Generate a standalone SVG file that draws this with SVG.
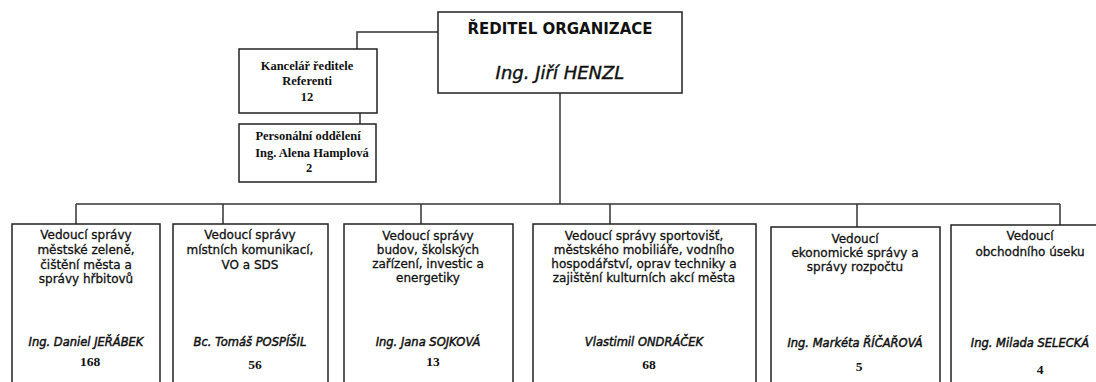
<svg xmlns="http://www.w3.org/2000/svg" width="1096" height="382" viewBox="0 0 1096 382">
<style>
.box{fill:#fff;stroke:#222;stroke-width:1.5}
.conn{fill:none;stroke:#333;stroke-width:1.5}
.t{font-family:"DejaVu Sans",Verdana,sans-serif;font-size:12px;fill:#111;stroke:#111;stroke-width:0.3;text-anchor:middle}
.n{font-family:"DejaVu Sans",Verdana,sans-serif;font-size:11.5px;font-style:italic;fill:#111;stroke:#111;stroke-width:0.45;text-anchor:middle}
.s{font-family:"Liberation Serif","Times New Roman",serif;font-size:12.5px;font-weight:bold;fill:#111;text-anchor:middle}
.num{font-family:"Liberation Serif","Times New Roman",serif;font-size:13.5px;font-weight:bold;fill:#111;text-anchor:middle}
.h1{font-family:"DejaVu Sans",Verdana,sans-serif;font-size:15px;font-weight:bold;fill:#111;text-anchor:middle}
.h2{font-family:"DejaVu Sans",Verdana,sans-serif;font-size:18px;font-style:italic;fill:#111;stroke:#111;stroke-width:0.4;text-anchor:middle}
</style>
<rect width="1096" height="382" fill="#fff"/>
<g id="connectors">
<polyline class="conn" points="438,32 357,32 357,49"/>
<line class="conn" x1="360" y1="113" x2="360" y2="124"/>
<line class="conn" x1="560" y1="93" x2="560" y2="204"/>
<line class="conn" x1="76" y1="204" x2="1060" y2="204"/>
<line class="conn" x1="76" y1="204" x2="76" y2="224"/>
<line class="conn" x1="223" y1="204" x2="223" y2="224"/>
<line class="conn" x1="421" y1="204" x2="421" y2="224"/>
<line class="conn" x1="610" y1="204" x2="610" y2="224"/>
<line class="conn" x1="857" y1="204" x2="857" y2="227"/>
<line class="conn" x1="1060" y1="204" x2="1060" y2="225"/>
</g>
<g id="director">
<rect class="box" x="438" y="12" width="244" height="81"/>
<text class="h1" x="560" y="34">ŘEDITEL ORGANIZACE</text>
<text class="h2" x="560" y="79">Ing. Jiří HENZL</text>
</g>
<g id="kancelar">
<rect class="box" x="239" y="49" width="138" height="64"/>
<text class="s" x="307" y="70">Kancelář ředitele</text>
<text class="s" x="307" y="85">Referenti</text>
<text class="s" x="307" y="101">12</text>
</g>
<g id="personalni">
<rect class="box" x="239" y="124" width="137" height="58"/>
<text class="s" x="308" y="140">Personální oddělení</text>
<text class="s" x="312" y="157">Ing. Alena Hamplová</text>
<text class="s" x="309" y="172">2</text>
</g>
<g id="zelen">
<rect class="box" x="12" y="224" width="148" height="170"/>
<text class="t" x="86" y="239">Vedoucí správy</text>
<text class="t" x="86" y="254">městské zeleně,</text>
<text class="t" x="86" y="269">čištění města a</text>
<text class="t" x="86" y="283">správy hřbitovů</text>
<text class="n" x="86" y="346">Ing. Daniel JEŘÁBEK</text>
<text class="num" x="90" y="366">168</text>
</g>
<g id="komunikace">
<rect class="box" x="173" y="224" width="155" height="170"/>
<text class="t" x="250" y="239">Vedoucí správy</text>
<text class="t" x="250" y="254">místních komunikací,</text>
<text class="t" x="250" y="269">VO a SDS</text>
<text class="n" x="250" y="346">Bc. Tomáš POSPÍŠIL</text>
<text class="num" x="255" y="369">56</text>
</g>
<g id="budovy">
<rect class="box" x="344" y="224" width="169" height="170"/>
<text class="t" x="428" y="240">Vedoucí správy</text>
<text class="t" x="428" y="254">budov, školských</text>
<text class="t" x="428" y="268">zařízení, investic a</text>
<text class="t" x="428" y="282">energetiky</text>
<text class="n" x="428" y="346">Ing. Jana SOJKOVÁ</text>
<text class="num" x="433" y="366">13</text>
</g>
<g id="sportoviste">
<rect class="box" x="533" y="224" width="223" height="170"/>
<text class="t" x="644" y="240">Vedoucí správy sportovišť,</text>
<text class="t" x="644" y="254">městského mobiliáře, vodního</text>
<text class="t" x="644" y="268">hospodářství, oprav techniky a</text>
<text class="t" x="644" y="282">zajištění kulturních akcí města</text>
<text class="n" x="644" y="346">Vlastimil ONDRÁČEK</text>
<text class="num" x="649" y="369">68</text>
</g>
<g id="ekonomicka">
<rect class="box" x="771" y="227" width="169" height="170"/>
<text class="t" x="855" y="243">Vedoucí</text>
<text class="t" x="855" y="257">ekonomické správy a</text>
<text class="t" x="855" y="271">správy rozpočtu</text>
<text class="n" x="855" y="347">Ing. Markéta ŘÍČAŘOVÁ</text>
<text class="num" x="859" y="371">5</text>
</g>
<g id="obchodni">
<rect class="box" x="951" y="225" width="160" height="170"/>
<text class="t" x="1030" y="240">Vedoucí</text>
<text class="t" x="1030" y="256">obchodního úseku</text>
<text class="n" x="1030" y="347">Ing. Milada SELECKÁ</text>
<text class="num" x="1040" y="374">4</text>
</g>
</svg>
